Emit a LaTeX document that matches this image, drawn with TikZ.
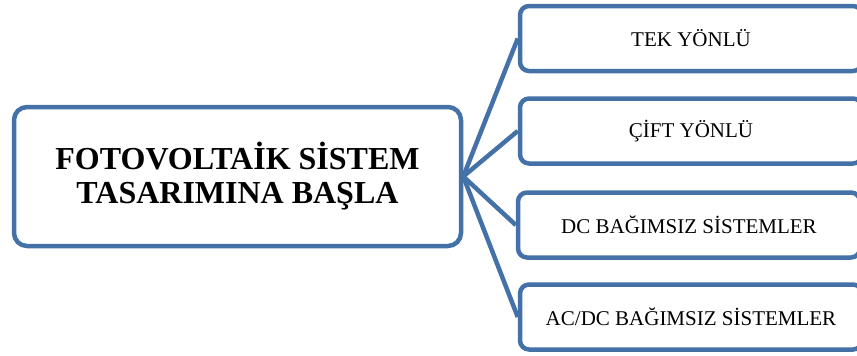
\documentclass[tikz,border=0pt]{standalone}
\usepackage{fontspec}
\setmainfont{Liberation Serif}
\usepackage{tikz}
\definecolor{pvblue}{RGB}{68,114,168}

\begin{document}
\begin{tikzpicture}[x=1pt, y=-1pt,
  mainbox/.style={draw=pvblue, line width=4.5pt, rounded corners=13pt, fill=white,
    minimum width=447pt, minimum height=139pt, align=center,
    font=\fontsize{32}{34}\selectfont\bfseries},
  typebox/.style={draw=pvblue, line width=4.5pt, rounded corners=9pt, fill=white,
    minimum width=342pt, minimum height=65pt,
    font=\fontsize{21}{24}\selectfont},
  link/.style={draw=pvblue, line width=4.5pt}]
\useasboundingbox (0,0) rectangle (857,356);
\clip (0,0) rectangle (857,356);

% start and the four system types
\node[mainbox] (start) at (237.5,176.5) {FOTOVOLTAİK SİSTEM\\TASARIMINA BAŞLA};
\node[typebox] (tek) at (691,38.5) {TEK YÖNLÜ};
\node[typebox] (cift) at (691,131) {ÇİFT YÖNLÜ};
\node[typebox] (dc) at (689,225) {DC BAĞIMSIZ SİSTEMLER};
\node[typebox] (acdc) at (691,317) {AC/DC BAĞIMSIZ SİSTEMLER};

\foreach \t in {tek,cift,dc,acdc}
  \draw[link] (start.east) -- (\t.west);
\end{tikzpicture}
\end{document}
